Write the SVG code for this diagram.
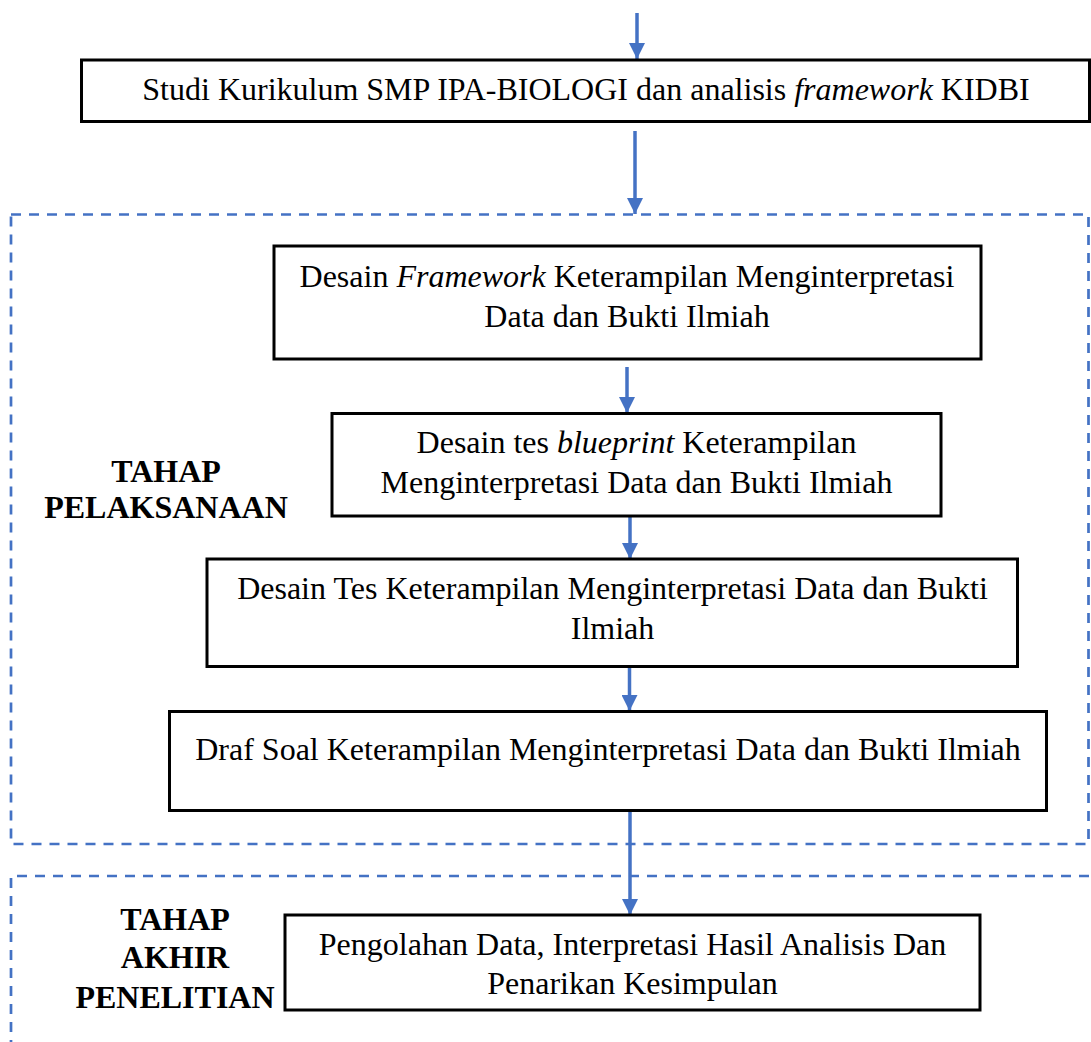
<svg xmlns="http://www.w3.org/2000/svg" width="1091" height="1042" viewBox="0 0 1091 1042">
<defs>
<style>
.box{fill:#fff;stroke:#000;stroke-width:3}
.dash{fill:none;stroke:#4472C4;stroke-width:2.7;stroke-dasharray:10 8}
.arr{stroke:#4472C4;stroke-width:3.5;fill:none}
.t{font-family:"Liberation Serif","Times New Roman",serif;font-size:32px;fill:#000;text-anchor:middle}
.b{font-weight:bold}
.i{font-style:italic}
</style>
<marker id="ah" markerUnits="userSpaceOnUse" markerWidth="16" markerHeight="16" refX="16" refY="8" orient="auto">
<path d="M0,0 L16,8 L0,16 Z" fill="#4472C4"/>
</marker>
</defs>
<rect width="1091" height="1042" fill="#fff"/>
<g id="stage-pelaksanaan">
<rect class="dash" x="11" y="214.5" width="1077.5" height="629.5"/>
<text class="t b" x="166" y="482">TAHAP</text>
<text class="t b" x="166" y="518">PELAKSANAAN</text>
</g>
<g id="stage-akhir">
<path class="dash" d="M11,1050 L11,876 L1100,876"/>
<text class="t b" x="175" y="930">TAHAP</text>
<text class="t b" x="175" y="968">AKHIR</text>
<text class="t b" x="175" y="1008">PENELITIAN</text>
</g>
<g id="connectors">
<line class="arr" x1="637" y1="13" x2="637" y2="59" marker-end="url(#ah)"/>
<line class="arr" x1="635" y1="131" x2="635" y2="214" marker-end="url(#ah)"/>
<line class="arr" x1="627" y1="367" x2="627" y2="413" marker-end="url(#ah)"/>
<line class="arr" x1="630" y1="517" x2="630" y2="559" marker-end="url(#ah)"/>
<line class="arr" x1="629.5" y1="668" x2="629.5" y2="711" marker-end="url(#ah)"/>
<line class="arr" x1="630" y1="811" x2="630" y2="915" marker-end="url(#ah)"/>
</g>
<g id="node-studi">
<rect class="box" x="81.5" y="60" width="1008" height="61.5"/>
<text class="t" x="586" y="100">Studi Kurikulum SMP IPA-BIOLOGI dan analisis <tspan class="i">framework</tspan> KIDBI</text>
</g>
<g id="node-framework">
<rect class="box" x="274" y="246" width="707" height="113"/>
<text class="t" x="627" y="287">Desain <tspan class="i">Framework</tspan> Keterampilan Menginterpretasi</text>
<text class="t" x="627" y="327">Data dan Bukti Ilmiah</text>
</g>
<g id="node-blueprint">
<rect class="box" x="332" y="413.5" width="609" height="102.5"/>
<text class="t" x="636.5" y="453">Desain tes <tspan class="i">blueprint</tspan> Keterampilan</text>
<text class="t" x="636.5" y="493">Menginterpretasi Data dan Bukti Ilmiah</text>
</g>
<g id="node-desain-tes">
<rect class="box" x="207" y="559" width="810.5" height="107.5"/>
<text class="t" x="612.5" y="599">Desain Tes Keterampilan Menginterpretasi Data dan Bukti</text>
<text class="t" x="612.5" y="639">Ilmiah</text>
</g>
<g id="node-draf">
<rect class="box" x="169.5" y="711.5" width="877" height="99"/>
<text class="t" x="608" y="760">Draf Soal Keterampilan Menginterpretasi Data dan Bukti Ilmiah</text>
</g>
<g id="node-pengolahan">
<rect class="box" x="285" y="915" width="695" height="95"/>
<text class="t" x="632.5" y="955">Pengolahan Data, Interpretasi Hasil Analisis Dan</text>
<text class="t" x="632.5" y="994">Penarikan Kesimpulan</text>
</g>
</svg>
